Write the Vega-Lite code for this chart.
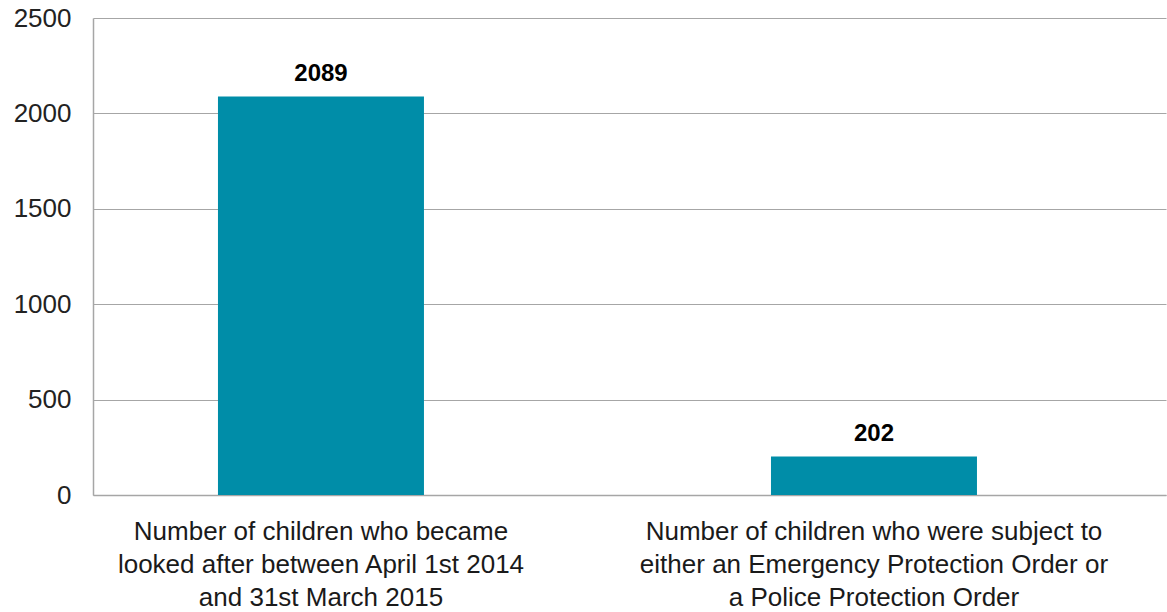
{
  "$schema": "https://vega.github.io/schema/vega-lite/v6.json",
  "width": 1073,
  "height": 477,
  "autosize": {"type": "none"},
  "padding": {"left": 93, "top": 18, "right": 1, "bottom": 117},
  "background": "white",
  "data": {
    "values": [
      {"category": "Number of children who became\nlooked after between April 1st 2014\nand 31st March 2015", "count": 2089, "order": 1},
      {"category": "Number of children who were subject to\neither an Emergency Protection Order or\na Police Protection Order", "count": 202, "order": 2}
    ]
  },
  "encoding": {
    "x": {
      "field": "category",
      "type": "nominal",
      "sort": {"field": "order"},
      "scale": {"paddingInner": 0.6275, "paddingOuter": 0.2839, "align": 0.398},
      "axis": {
        "title": null,
        "labelAngle": 0,
        "labelExpr": "split(datum.label, '\\n')",
        "labelFont": "Liberation Sans",
        "labelFontSize": 26,
        "labelColor": "#1a1a1a",
        "labelLineHeight": 33,
        "labelPadding": 23,
        "labelLimit": 0,
        "ticks": false,
        "domain": true,
        "domainColor": "#a6a6a6",
        "domainWidth": 1.5
      }
    },
    "y": {
      "field": "count",
      "type": "quantitative",
      "scale": {"domain": [0, 2500]},
      "axis": {
        "title": null,
        "format": "d",
        "values": [0, 500, 1000, 1500, 2000, 2500],
        "labelFont": "Liberation Sans",
        "labelFontSize": 26,
        "labelColor": "#222222",
        "labelPadding": 22,
        "ticks": false,
        "domain": true,
        "domainColor": "#a6a6a6",
        "domainWidth": 1.5,
        "grid": true,
        "gridColor": "#a6a6a6",
        "gridWidth": 1.2
      }
    }
  },
  "layer": [
    {"mark": {"type": "bar", "color": "#008DA8"}},
    {
      "mark": {"type": "text", "baseline": "alphabetic", "dy": -15, "font": "Liberation Sans", "fontWeight": "bold", "fontSize": 24, "color": "#000000"},
      "encoding": {"text": {"field": "count", "type": "quantitative"}}
    }
  ],
  "config": {"view": {"stroke": null}}
}
